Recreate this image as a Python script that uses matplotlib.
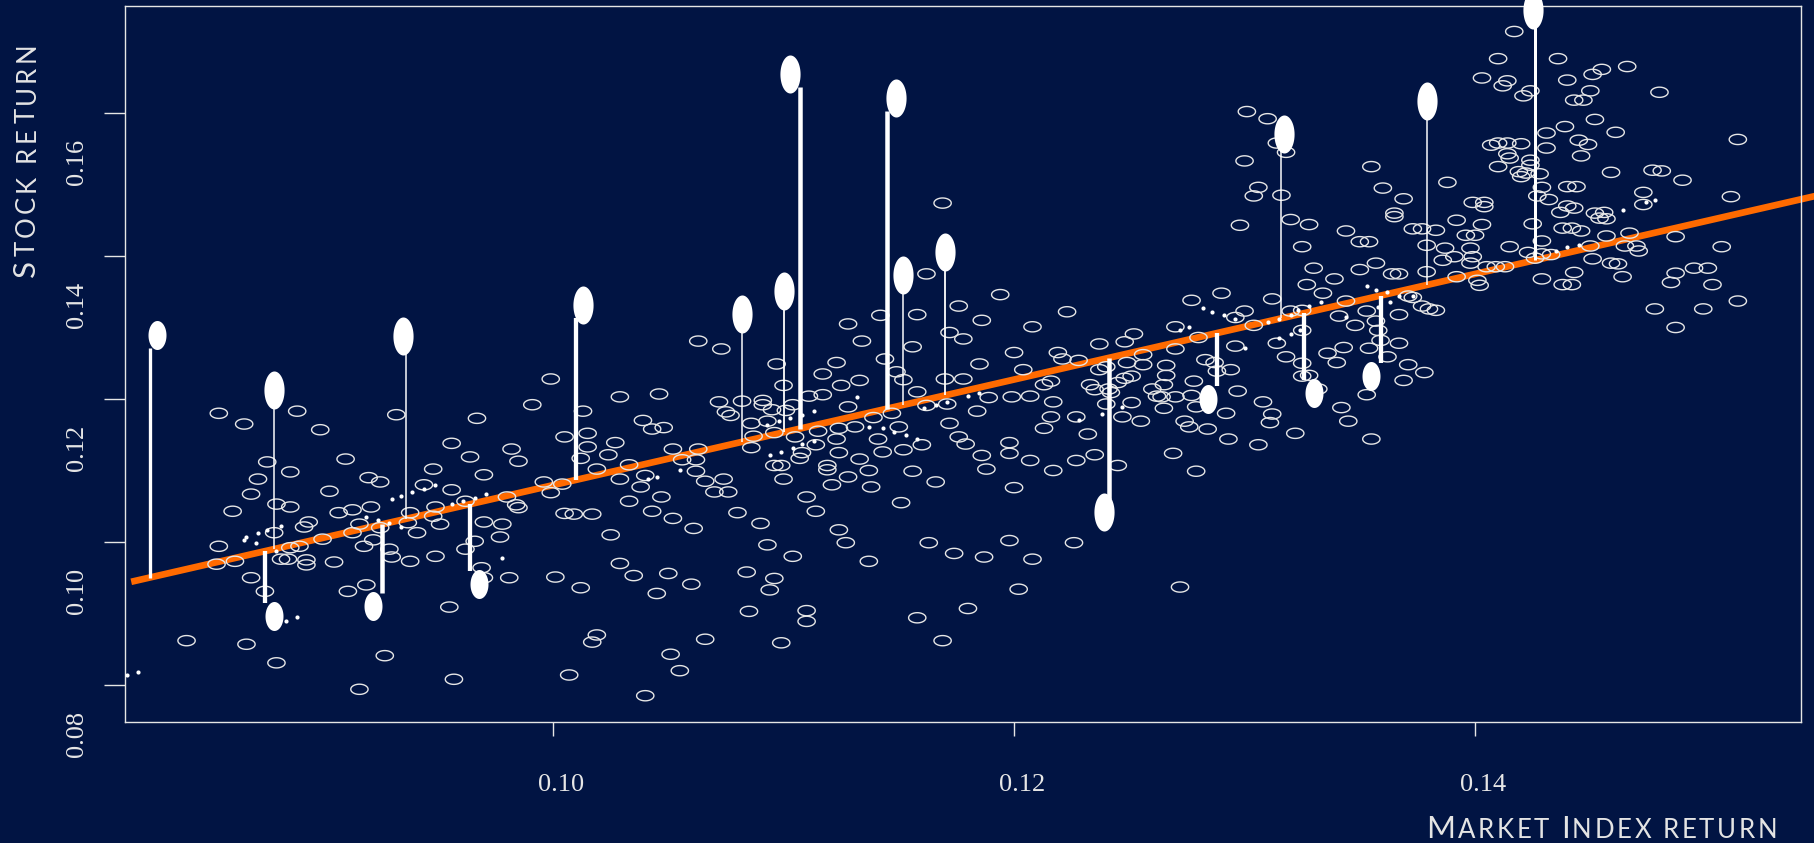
import numpy as np
import matplotlib
matplotlib.use("Agg")
import matplotlib.pyplot as plt
from matplotlib.path import Path
from matplotlib import transforms

# ---- data ----------------------------------------------------------------
# hollow points: market index return vs stock return
market_left = [0.0855, 0.0866, 0.0889, 0.0899, 0.0876, 0.0886, 0.0872, 0.0869, 0.0880, 0.0886,
               0.0861, 0.0910, 0.0903, 0.0920, 0.0925, 0.0932, 0.0907, 0.0913, 0.0921, 0.0894,
               0.0892, 0.0879, 0.0855, 0.0886, 0.0890, 0.0900, 0.0916, 0.0913, 0.0925, 0.0922,
               0.0918, 0.0929, 0.0930, 0.0938, 0.0937, 0.0941, 0.0938, 0.0949, 0.0862, 0.0854,
               0.0882, 0.0885, 0.0893, 0.0893, 0.0905, 0.0869, 0.0875, 0.0911, 0.0919, 0.0955,
               0.0841, 0.0867, 0.0880, 0.0927, 0.0916, 0.0957, 0.0944, 0.0948, 0.0956, 0.0964,
               0.0967, 0.0970, 0.0956, 0.0949, 0.0948, 0.0951, 0.0962, 0.0970, 0.0966, 0.0962,
               0.0978, 0.0977, 0.0980, 0.0984, 0.0985, 0.0982, 0.0985, 0.0991, 0.0969, 0.0970,
               0.0981]
stock_left = [0.1180, 0.1165, 0.1183, 0.1157, 0.1112, 0.1098, 0.1088, 0.1067, 0.1053, 0.1049,
              0.1043, 0.1116, 0.1071, 0.1090, 0.1084, 0.1178, 0.1041, 0.1045, 0.1049, 0.1028,
              0.1021, 0.1013, 0.0994, 0.0992, 0.0994, 0.1004, 0.1025, 0.1013, 0.1020, 0.1003,
              0.0994, 0.0990, 0.0979, 0.1041, 0.1027, 0.1013, 0.0973, 0.0980, 0.0973, 0.0969,
              0.0976, 0.0976, 0.0975, 0.0968, 0.0972, 0.0950, 0.0931, 0.0931, 0.0940, 0.0909,
              0.0862, 0.0857, 0.0831, 0.0841, 0.0794, 0.0808, 0.1080, 0.1102, 0.1138, 0.1119,
              0.1173, 0.1094, 0.1073, 0.1049, 0.1036, 0.1025, 0.1057, 0.1028, 0.1001, 0.0990,
              0.1025, 0.1007, 0.1063, 0.1052, 0.1048, 0.1130, 0.1113, 0.1192, 0.0964, 0.0950,
              0.0950]

market_mid = [0.0999, 0.1029, 0.1046, 0.1013, 0.1015, 0.1005, 0.1015, 0.1027, 0.1039, 0.1043,
              0.1048, 0.1024, 0.1012, 0.1019, 0.1033, 0.1029, 0.1040, 0.1038, 0.1052, 0.1056,
              0.1063, 0.1062, 0.1062, 0.1066, 0.1074, 0.1070, 0.1076, 0.0996, 0.1004, 0.0999,
              0.1033, 0.1047, 0.1043, 0.1052, 0.1005, 0.1009, 0.1017, 0.1025, 0.1061, 0.1080,
              0.1090, 0.1093, 0.1104, 0.1029, 0.1035, 0.1050, 0.1060, 0.1045, 0.1001, 0.1012,
              0.1084, 0.1096, 0.1094, 0.1085, 0.1110, 0.1110, 0.1019, 0.1017, 0.1066, 0.1099,
              0.1051, 0.1055, 0.1007, 0.1040, 0.1063, 0.1073, 0.1097, 0.1100, 0.1072, 0.1082,
              0.1075, 0.1077, 0.1091, 0.1091, 0.1095, 0.1101, 0.1104, 0.1111, 0.1117, 0.1117,
              0.1123, 0.1125, 0.1133, 0.1128, 0.1134, 0.1142, 0.1144, 0.1149, 0.1152, 0.1156,
              0.1158, 0.1158, 0.1172, 0.1178, 0.1176, 0.1186, 0.1185, 0.1170, 0.1178, 0.1128,
              0.1124, 0.1131, 0.1139, 0.1147, 0.1150, 0.1162, 0.1171, 0.1172, 0.1184, 0.1189,
              0.1086, 0.1093, 0.1096, 0.1087, 0.1086, 0.1105, 0.1115, 0.1114, 0.1123, 0.1124,
              0.1108, 0.1107, 0.1096, 0.1099, 0.1100, 0.1119, 0.1119, 0.1128, 0.1133, 0.1137,
              0.1138, 0.1121, 0.1141, 0.1143, 0.1152, 0.1156, 0.1160, 0.1166, 0.1176, 0.1179,
              0.1186, 0.1188, 0.1151, 0.1110, 0.1114, 0.1124, 0.1127, 0.1137, 0.1163, 0.1174,
              0.1187, 0.1180, 0.1158, 0.1169, 0.1169, 0.1162]
stock_mid = [0.1228, 0.1203, 0.1207, 0.1183, 0.1152, 0.1147, 0.1133, 0.1139, 0.1170, 0.1158,
             0.1160, 0.1122, 0.1117, 0.1102, 0.1108, 0.1088, 0.1093, 0.1077, 0.1130, 0.1115,
             0.1130, 0.1115, 0.1099, 0.1085, 0.1088, 0.1070, 0.1070, 0.1084, 0.1081, 0.1069,
             0.1057, 0.1063, 0.1043, 0.1033, 0.1040, 0.1039, 0.1039, 0.1010, 0.1019, 0.1041,
             0.1026, 0.0996, 0.0980, 0.0970, 0.0953, 0.0956, 0.0941, 0.0928, 0.0951, 0.0936,
             0.0958, 0.0949, 0.0933, 0.0903, 0.0904, 0.0889, 0.0870, 0.0860, 0.0864, 0.0859,
             0.0843, 0.0820, 0.0814, 0.0785, 0.1281, 0.1270, 0.1249, 0.1219, 0.1196, 0.1197,
             0.1182, 0.1177, 0.1198, 0.1192, 0.1185, 0.1184, 0.1192, 0.1204, 0.1206, 0.1235,
             0.1251, 0.1219, 0.1226, 0.1305, 0.1281, 0.1317, 0.1256, 0.1238, 0.1227, 0.1273,
             0.1318, 0.1210, 0.1293, 0.1284, 0.1330, 0.1310, 0.1249, 0.1228, 0.1228, 0.1189,
             0.1159, 0.1161, 0.1174, 0.1180, 0.1161, 0.1191, 0.1193, 0.1166, 0.1183, 0.1202,
             0.1166, 0.1169, 0.1153, 0.1148, 0.1132, 0.1147, 0.1155, 0.1136, 0.1144, 0.1125,
             0.1125, 0.1117, 0.1107, 0.1107, 0.1088, 0.1107, 0.1101, 0.1091, 0.1116, 0.1100,
             0.1077, 0.1080, 0.1144, 0.1126, 0.1129, 0.1099, 0.1136, 0.1084, 0.1147, 0.1137,
             0.1121, 0.1102, 0.1055, 0.1063, 0.1043, 0.1017, 0.0999, 0.0973, 0.0999, 0.0984,
             0.0979, 0.0907, 0.0894, 0.0862, 0.1474, 0.1375]

market_right = [0.1194, 0.1223, 0.1208, 0.1200, 0.1204, 0.1219, 0.1221, 0.1228, 0.1237, 0.1248,
                0.1252, 0.1256, 0.1256, 0.1249, 0.1237, 0.1240, 0.1216, 0.1213, 0.1233, 0.1235,
                0.1241, 0.1242, 0.1245, 0.1248, 0.1251, 0.1240, 0.1247, 0.1251, 0.1255, 0.1227,
                0.1217, 0.1216, 0.1213, 0.1232, 0.1207, 0.1199, 0.1198, 0.1198, 0.1207, 0.1217,
                0.1227, 0.1235, 0.1245, 0.1200, 0.1198, 0.1208, 0.1226, 0.1202, 0.1272, 0.1260,
                0.1265, 0.1266, 0.1266, 0.1270, 0.1270, 0.1277, 0.1290, 0.1278, 0.1277, 0.1270,
                0.1264, 0.1262, 0.1265, 0.1279, 0.1274, 0.1276, 0.1284, 0.1269, 0.1279, 0.1293,
                0.1292, 0.1297, 0.1294, 0.1288, 0.1283, 0.1287, 0.1296, 0.1300, 0.1296, 0.1280,
                0.1312, 0.1304, 0.1314, 0.1318, 0.1325, 0.1325, 0.1320, 0.1325, 0.1336, 0.1340,
                0.1343, 0.1348, 0.1341, 0.1344, 0.1353, 0.1367, 0.1367, 0.1357, 0.1358, 0.1359,
                0.1354, 0.1362, 0.1371, 0.1369, 0.1378, 0.1380, 0.1377, 0.1371, 0.1373, 0.1353,
                0.1342, 0.1345, 0.1355, 0.1332, 0.1325, 0.1328, 0.1312, 0.1311, 0.1308, 0.1322,
                0.1306, 0.1339, 0.1350, 0.1357, 0.1330, 0.1327, 0.1334, 0.1325, 0.1350, 0.1354,
                0.1344, 0.1364, 0.1367, 0.1379, 0.1379]
stock_right = [0.1346, 0.1322, 0.1301, 0.1265, 0.1241, 0.1265, 0.1256, 0.1254, 0.1277, 0.1280,
               0.1291, 0.1262, 0.1248, 0.1251, 0.1241, 0.1245, 0.1225, 0.1220, 0.1220, 0.1213,
               0.1214, 0.1209, 0.1223, 0.1229, 0.1232, 0.1193, 0.1175, 0.1195, 0.1169, 0.1175,
               0.1196, 0.1175, 0.1159, 0.1151, 0.1204, 0.1203, 0.1139, 0.1124, 0.1114, 0.1100,
               0.1114, 0.1122, 0.1107, 0.1076, 0.1002, 0.0976, 0.0999, 0.0934, 0.0937, 0.1214,
               0.1220, 0.1233, 0.1247, 0.1270, 0.1301, 0.1338, 0.1348, 0.1225, 0.1205, 0.1203,
               0.1203, 0.1204, 0.1187, 0.1189, 0.1169, 0.1161, 0.1158, 0.1124, 0.1099, 0.1144,
               0.1180, 0.1211, 0.1241, 0.1239, 0.1255, 0.1251, 0.1274, 0.1323, 0.1314, 0.1286,
               0.1340, 0.1303, 0.1278, 0.1259, 0.1250, 0.1296, 0.1323, 0.1324, 0.1264, 0.1251,
               0.1272, 0.1303, 0.1316, 0.1337, 0.1323, 0.1278, 0.1318, 0.1309, 0.1296, 0.1282,
               0.1271, 0.1259, 0.1248, 0.1226, 0.1237, 0.1326, 0.1330, 0.1344, 0.1342, 0.1206,
               0.1188, 0.1169, 0.1144, 0.1214, 0.1232, 0.1233, 0.1179, 0.1167, 0.1196, 0.1152,
               0.1136, 0.1368, 0.1381, 0.1390, 0.1383, 0.1360, 0.1348, 0.1413, 0.1420, 0.1420,
               0.1435, 0.1375, 0.1375, 0.1415, 0.1378]

market_top = [0.1417, 0.1410, 0.1436, 0.1466, 0.1455, 0.1451, 0.1403, 0.1414, 0.1412, 0.1440,
              0.1450, 0.1480, 0.1424, 0.1421, 0.1443, 0.1447, 0.1452, 0.1439, 0.1431, 0.1461,
              0.1445, 0.1449, 0.1514, 0.1407, 0.1410, 0.1414, 0.1420, 0.1431, 0.1446, 0.1414,
              0.1415, 0.1410, 0.1424, 0.1424, 0.1419, 0.1422, 0.1428, 0.1420, 0.1459, 0.1477,
              0.1481, 0.1490, 0.1429, 0.1440, 0.1444, 0.1427, 0.1432, 0.1473, 0.1473, 0.1511,
              0.1437, 0.1440, 0.1443, 0.1452, 0.1456, 0.1454, 0.1457, 0.1425, 0.1438, 0.1442,
              0.1446, 0.1457, 0.1467, 0.1487, 0.1465, 0.1470, 0.1471, 0.1450, 0.1507, 0.1429,
              0.1415, 0.1423, 0.1429, 0.1433, 0.1426, 0.1451, 0.1459, 0.1462, 0.1464, 0.1443,
              0.1429, 0.1438, 0.1442, 0.1487, 0.1495, 0.1501, 0.1485, 0.1503, 0.1514, 0.1478,
              0.1499, 0.1487, 0.1405, 0.1409, 0.1413, 0.1392, 0.1401, 0.1402, 0.1383, 0.1301,
              0.1310, 0.1314, 0.1318, 0.1300, 0.1306, 0.1304, 0.1316, 0.1298, 0.1355, 0.1360,
              0.1369, 0.1388, 0.1365, 0.1365, 0.1320, 0.1328, 0.1392, 0.1373, 0.1377, 0.1383,
              0.1387, 0.1391, 0.1398, 0.1399, 0.1398, 0.1386, 0.1396, 0.1400, 0.1403, 0.1399,
              0.1404, 0.1404]
stock_top = [0.1714, 0.1676, 0.1676, 0.1665, 0.1661, 0.1654, 0.1649, 0.1645, 0.1638, 0.1646,
             0.1631, 0.1629, 0.1631, 0.1624, 0.1618, 0.1618, 0.1591, 0.1581, 0.1572, 0.1573,
             0.1562, 0.1556, 0.1563, 0.1555, 0.1558, 0.1558, 0.1557, 0.1551, 0.1540, 0.1543,
             0.1537, 0.1525, 0.1534, 0.1527, 0.1518, 0.1516, 0.1515, 0.1511, 0.1517, 0.1520,
             0.1519, 0.1506, 0.1496, 0.1497, 0.1497, 0.1484, 0.1479, 0.1489, 0.1472, 0.1483,
             0.1461, 0.1470, 0.1467, 0.1460, 0.1461, 0.1453, 0.1452, 0.1445, 0.1439, 0.1439,
             0.1435, 0.1428, 0.1432, 0.1427, 0.1414, 0.1414, 0.1407, 0.1414, 0.1413, 0.1421,
             0.1413, 0.1405, 0.1403, 0.1402, 0.1397, 0.1396, 0.1390, 0.1389, 0.1371, 0.1377,
             0.1368, 0.1360, 0.1360, 0.1376, 0.1383, 0.1383, 0.1363, 0.1360, 0.1337, 0.1326,
             0.1326, 0.1300, 0.1385, 0.1385, 0.1385, 0.1371, 0.1366, 0.1359, 0.1324, 0.1602,
             0.1592, 0.1558, 0.1545, 0.1533, 0.1496, 0.1484, 0.1485, 0.1443, 0.1525, 0.1495,
             0.1480, 0.1503, 0.1460, 0.1455, 0.1451, 0.1444, 0.1450, 0.1438, 0.1438, 0.1436,
             0.1411, 0.1399, 0.1411, 0.1399, 0.1390, 0.1394, 0.1429, 0.1429, 0.1444, 0.1475,
             0.1475, 0.1469]

# small dots lying close to the fitted line
dot_market = [0.0866, 0.0867, 0.0872, 0.0871, 0.0876, 0.0882, 0.0880, 0.0884, 0.0889, 0.0815,
              0.0820, 0.0919, 0.0924, 0.0929, 0.0934, 0.0930, 0.0934, 0.0939, 0.0944, 0.0949,
              0.0956, 0.0961, 0.0966, 0.0971, 0.0978,
              0.1045, 0.1041, 0.1055, 0.1094, 0.1099, 0.1104, 0.1108, 0.1113, 0.1093, 0.1098,
              0.1103, 0.1108, 0.1113, 0.1132, 0.1137, 0.1143, 0.1148, 0.1153, 0.1158, 0.1161,
              0.1166, 0.1171, 0.1180, 0.1185,
              0.1282, 0.1286, 0.1291, 0.1296, 0.1272, 0.1276, 0.1300, 0.1238, 0.1228, 0.1247,
              0.1315, 0.1320, 0.1324, 0.1310, 0.1315, 0.1320, 0.1323, 0.1328, 0.1333, 0.1353,
              0.1357, 0.1362, 0.1367, 0.1373, 0.1363, 0.1358, 0.1344,
              0.1435, 0.1440, 0.1445, 0.1464, 0.1474, 0.1478]
dot_stock = [0.1003, 0.1007, 0.1013, 0.0999, 0.1017, 0.1022, 0.0987, 0.0890, 0.0895, 0.0814,
             0.0818, 0.1035, 0.1031, 0.1027, 0.1021, 0.1060, 0.1064, 0.1070, 0.1074, 0.1080,
             0.1053, 0.1057, 0.1062, 0.1067, 0.0978,
             0.1091, 0.1088, 0.1101, 0.1122, 0.1126, 0.1131, 0.1137, 0.1141, 0.1164, 0.1169,
             0.1173, 0.1178, 0.1183, 0.1203, 0.1161, 0.1159, 0.1154, 0.1150, 0.1144, 0.1187,
             0.1192, 0.1196, 0.1204, 0.1208,
             0.1327, 0.1322, 0.1317, 0.1312, 0.1297, 0.1301, 0.1272, 0.1179, 0.1170, 0.1189,
             0.1286, 0.1291, 0.1296, 0.1308, 0.1312, 0.1317, 0.1324, 0.1330, 0.1336, 0.1358,
             0.1353, 0.1349, 0.1344, 0.1344, 0.1335, 0.1329, 0.1315,
             0.1407, 0.1412, 0.1416, 0.1464, 0.1475, 0.1479]

# highlighted observations with their residual stems
hl_market = [0.0828, 0.0879, 0.0879, 0.0935, 0.0922, 0.0968, 0.1013, 0.1082, 0.1100, 0.1103,
             0.1149, 0.1152, 0.1170, 0.1317, 0.1379, 0.1425, 0.1239, 0.1284, 0.1330, 0.1355]
hl_stock = [0.1290, 0.1212, 0.0897, 0.1288, 0.0910, 0.0941, 0.1331, 0.1319, 0.1351, 0.1655,
            0.1621, 0.1373, 0.1405, 0.1570, 0.1617, 0.1744, 0.1042, 0.1200, 0.1209, 0.1232]
stem_market = [0.0825, 0.0879, 0.0875, 0.0936, 0.0926, 0.0964, 0.1010, 0.1082, 0.1100, 0.1107,
               0.1145, 0.1152, 0.1170, 0.1316, 0.1379, 0.1426, 0.1241, 0.1288, 0.1326, 0.1359]

# fitted regression line
intercept = 0.0341
slope = 0.7385

# ---- styling ----------------------------------------------------------------
hl_big = [0, 1, 0, 1, 0, 0, 1, 1, 1, 1, 1, 1, 1, 1, 1, 1, 1, 0, 0, 0]
stem_px = [3.3, 1.5, 4.3, 1.5, 4.5, 4.3, 4.3, 1.5, 1.8, 4.5,
           4.5, 1.5, 1.8, 1.5, 1.5, 3.0, 4.5, 4.3, 4.3, 4.3]

BG = "#011443"
ORANGE = "#FF6A00"
FG = "#E6E6E6"
W, H = 1814, 843
LABEL_FONT = ["Lato", "DejaVu Sans"]
TICK_FONT = ["Liberation Serif", "DejaVu Serif"]


def ellipse(ratio, tall=False):
    t = np.linspace(0, 2 * np.pi, 73)
    a, b = np.cos(t), ratio * np.sin(t)
    verts = np.column_stack([b, a] if tall else [a, b])
    return Path(verts, closed=True)


fig = plt.figure(figsize=(W / 100, H / 100), dpi=100, facecolor=BG)
ax = fig.add_axes([125 / W, 1 - 722 / H, 1676 / W, 716 / H], facecolor=BG)
ax.set_xlim(0.08143, 0.15414)
ax.set_ylim(0.074825, 0.174965)

mx = np.concatenate([market_left, market_mid, market_right, market_top])
sy = np.concatenate([stock_left, stock_mid, stock_right, stock_top])
ax.scatter(mx, sy, s=155, marker=ellipse(0.59), facecolors="none",
           edgecolors=FG, linewidths=1.0, zorder=3)

ax.scatter(dot_market, dot_stock, s=9, color="white", linewidths=0, zorder=4)

# regression line runs out to the right edge of the figure
xl = np.array([0.0817, 0.1550])
ax.plot(xl, intercept + slope * xl, color=ORANGE, lw=4.8,
        solid_capstyle="butt", clip_on=False, zorder=2)

# residual stems
hx = np.array(hl_market)
hy = np.array(hl_stock)
sx = np.array(stem_market)
fit = intercept + slope * sx
end = hy - np.sign(hy - fit) * 0.0018
stems = ax.vlines(sx, fit, end, colors="white",
                  linewidths=np.array(stem_px) * 0.72, zorder=4)
stems.set_capstyle("butt")

big = np.array(hl_big, dtype=bool)
ax.scatter(hx[big], hy[big], s=750, marker=ellipse(0.53, tall=True),
           color="white", linewidths=0, zorder=5, clip_on=False)
ax.scatter(hx[~big], hy[~big], s=436, marker=ellipse(0.62, tall=True),
           color="white", linewidths=0, zorder=5, clip_on=False)

# axes frame and ticks
for sp in ax.spines.values():
    sp.set_color(FG)
    sp.set_linewidth(1.0)
xt = [0.10, 0.12, 0.14]
yt = [0.08, 0.10, 0.12, 0.14, 0.16]
ax.set_xticks(xt)
ax.set_yticks(yt)
ax.set_xticklabels([])
ax.set_yticklabels([])
ax.tick_params(axis="x", length=10, width=1.0, color=FG, direction="out")
ax.tick_params(axis="y", length=15, width=1.0, color=FG, direction="out")

xtr = transforms.blended_transform_factory(ax.transData, ax.transAxes)
for v in xt:
    off = transforms.ScaledTranslation(8 / 100, -68.7 / 100, fig.dpi_scale_trans)
    ax.text(v, 0, f"{v:.2f}", transform=xtr + off, ha="center", va="baseline",
            fontsize=19, family=TICK_FONT, color=FG)
ytr = transforms.blended_transform_factory(ax.transAxes, ax.transData)
for v in yt:
    off = transforms.ScaledTranslation(-48 / 100, -49 / 100, fig.dpi_scale_trans)
    ax.text(0, v, f"{v:.2f}", transform=ytr + off, rotation=90, ha="center",
            va="center", fontsize=19, family=TICK_FONT, color=FG)


def caps_label(text, start, base, length, big_pt, small_pt, vertical=False):
    # fake small caps: capital letters large, lower-case letters as small capitals
    renderer = fig.canvas.get_renderer()
    ident = transforms.IdentityTransform()
    items = []
    for k, word in enumerate(text.split()):
        if k:
            items.append(None)
        for ch in word:
            t = fig.text(0, 0, ch.upper(), fontsize=big_pt if ch.isupper() else small_pt,
                         family=LABEL_FONT, color="#E4E4E4",
                         transform=ident, rotation=90 if vertical else 0,
                         rotation_mode="anchor", ha="left", va="baseline")
            bb = t.get_window_extent(renderer)
            items.append((t, bb.height if vertical else bb.width))
    space = 0.28 * big_pt * fig.dpi / 72
    letters = [it for it in items if it is not None]
    n_space = len(items) - len(letters)
    gap = (length - sum(w for _, w in letters) - n_space * space) / (len(letters) - 1)
    pos = start
    for it in items:
        if it is None:
            pos += space
            continue
        t, w = it
        t.set_position((base, pos) if vertical else (pos, base))
        pos += w + gap


caps_label("Market Index return", 1426, H - 838, 351, 22.5, 18.5)
caps_label("Stock return", H - 277, 35, 235, 22.5, 18.5, vertical=True)

fig.savefig("out.png", dpi=100, facecolor=BG)
